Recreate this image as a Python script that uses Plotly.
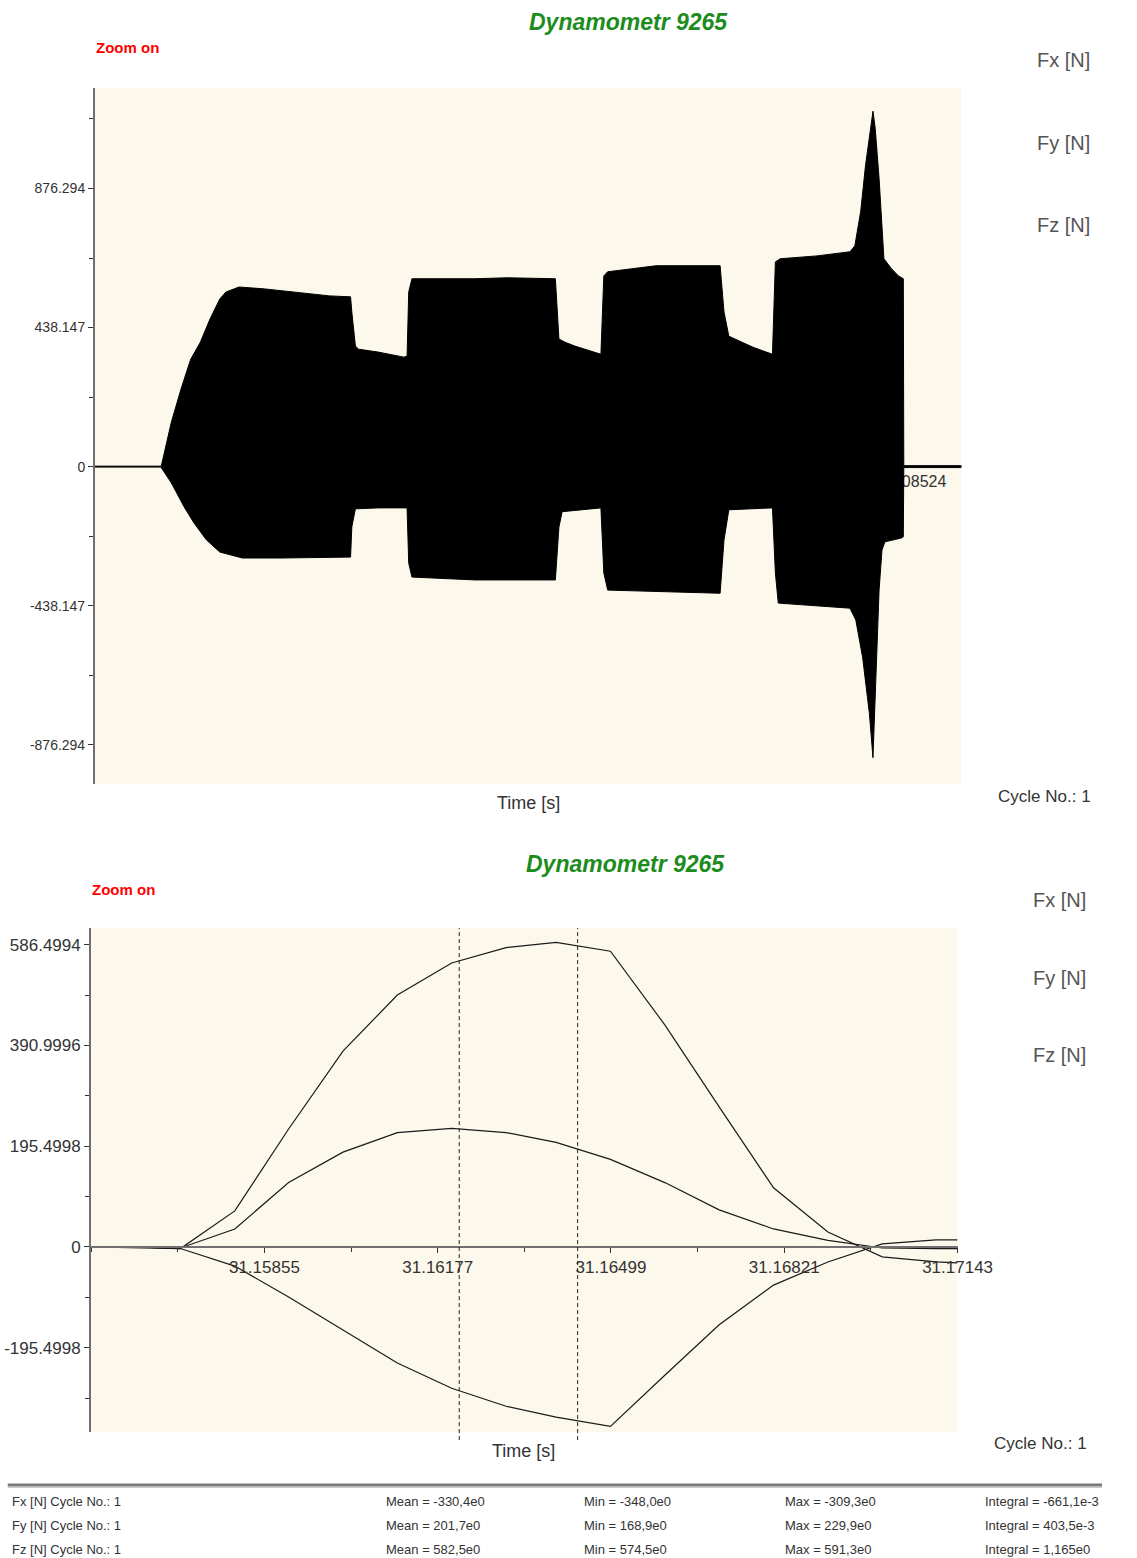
import plotly.graph_objects as go

W, H = 1137, 1558
FONT = "Liberation Sans, Arial, sans-serif"

# ---------------- overview record: envelope of the force signal ----------------
env_upper_t = [0.0, 2.585, 2.60, 2.992, 3.372, 3.752, 4.132, 4.512, 4.893, 5.132, 5.653,
               6.653, 7.934, 9.200, 10.025, 10.074, 10.215, 10.340, 11.101, 12.116, 12.241,
               12.306, 12.431, 13.636, 14.902, 16.157, 18.058, 18.198, 18.438, 18.818,
               19.844, 19.958, 20.110, 22.011, 24.520, 24.672, 24.862, 25.813, 26.573,
               26.687, 26.877, 28.322, 29.614, 29.805, 30.033, 30.223, 30.413, 30.515,
               30.603, 30.755, 30.945, 31.249, 31.515, 31.705, 31.724, 33.986]
env_upper_f = [1.5, 1.5, 1.5, 139, 244, 338, 392, 465, 528, 550, 566,
               560, 550, 538, 535, 487, 380, 370, 361, 345, 348,
               550, 592, 592, 592, 595, 592, 402, 392, 380,
               354, 601, 614, 633, 633, 487, 411, 376, 354,
               645, 655, 664, 677, 696, 804, 949, 1066, 1120,
               1066, 908, 655, 623, 601, 592, 3, 3]

env_lower_t = [0.0, 2.585, 2.60, 2.992, 3.497, 3.878, 4.372, 4.893, 5.778, 7.299, 10.025,
               10.074, 10.215, 11.101, 12.241, 12.306, 12.431, 14.902, 18.058, 18.198,
               18.324, 19.844, 19.958, 20.110, 24.520, 24.672, 24.862, 26.573, 26.687,
               26.801, 29.614, 29.843, 30.109, 30.375, 30.515, 30.603, 30.755, 30.869,
               30.983, 31.629, 31.705, 31.724, 33.986]
env_lower_f = [-1.5, -1.5, -1.5, -51, -127, -177, -231, -269, -288, -288, -285,
               -190, -133, -130, -130, -304, -348, -357, -357, -190,
               -142, -130, -335, -389, -399, -231, -136, -130, -335,
               -430, -446, -484, -601, -778, -917, -759, -389, -263,
               -237, -225, -221, -3, -3]

overview_t_range = [0.0, 33.986]
overview_f_range = [-1000, 1193]
overview_tick_t = [8.02131, 16.04262, 24.06393, 32.08524]
overview_tick_text = ["8.02131", "16.04262", "24.06393", "32.08524"]
overview_f_ticks = [-876.294, -438.147, 0, 438.147, 876.294]

# ---------------- zoomed window: single engagement ----------------
zoom_t = [31.15533, 31.15598, 31.15699, 31.15800, 31.15900, 31.16001, 31.16102,
          31.16203, 31.16304, 31.16397, 31.16498, 31.16599, 31.16700, 31.16801,
          31.16902, 31.17003, 31.17103, 31.17143]
fz = [0, 1, -3, 70, 229, 380, 489, 551, 581, 591, 574, 431, 272, 115, 29, -19, -29, -31]
fy = [0, 1, -2, 35, 125, 184, 222, 230, 222, 203, 170, 125, 72, 35, 13, -2, -3, -3]
fx = [0, -1, -3, -37, -97, -161, -225, -274, -309, -330, -348, -249, -151, -74, -29, 6, 14, 14]

zoom_t_range = [31.15533, 31.17143]
zoom_f_range = [-359, 619]
cursor_t = [31.16217, 31.16437]
zoom_t_ticks = [31.15855, 31.16177, 31.16499, 31.16821, 31.17143]
zoom_f_ticks = [-195.4998, 0, 195.4998, 390.9996, 586.4994]

# ---------------- statistics between the cursors ----------------
stat_channel = ["Fx [N] Cycle No.: 1", "Fy [N] Cycle No.: 1", "Fz [N] Cycle No.: 1"]
stat_mean = ["-330,4e0", "201,7e0", "582,5e0"]
stat_min = ["-348,0e0", "168,9e0", "574,5e0"]
stat_max = ["-309,3e0", "229,9e0", "591,3e0"]
stat_integral = ["-661,1e-3", "403,5e-3", "1,165e0"]

channels = ["Fx [N]", "Fy [N]", "Fz [N]"]

BG = "#FDF8EC"
AXIS_LINE = "#707070"
TEXT = "#333333"


def px_x(x):
    return x / W


def px_y(y):
    return 1 - y / H


# plot-area rectangles (pixels)
top_box = dict(x0=98, x1=992, y0=88, y1=784)
bot_box = dict(x0=94, x1=988, y0=928, y1=1432)

fig = go.Figure()

# tick labels of the overview time axis sit on the zero line, beneath the signal
label_offset = 16 * (overview_f_range[1] - overview_f_range[0]) / (top_box["y1"] - top_box["y0"])
fig.add_trace(go.Scatter(
    x=overview_tick_t, y=[-label_offset] * len(overview_tick_t),
    mode="text", text=overview_tick_text,
    textfont=dict(family=FONT, size=16, color=TEXT),
    cliponaxis=False, hoverinfo="skip", showlegend=False,
    xaxis="x", yaxis="y"))

# overview signal drawn as its filled envelope
fig.add_trace(go.Scatter(
    x=env_upper_t + env_lower_t[::-1],
    y=env_upper_f + env_lower_f[::-1],
    mode="lines", fill="toself", fillcolor="black",
    line=dict(color="black", width=1),
    hoverinfo="skip", showlegend=False,
    xaxis="x", yaxis="y"))

# zoomed force components
for name, vals in zip(channels, [fx, fy, fz]):
    fig.add_trace(go.Scatter(
        x=zoom_t, y=vals, mode="lines", name=name,
        line=dict(color="#1a1a1a", width=1.2),
        showlegend=False, xaxis="x2", yaxis="y2"))

# cursor lines
shapes = []
for t in cursor_t:
    shapes.append(dict(type="line", xref="x2", yref="y2 domain",
                       x0=t, x1=t, y0=-0.016, y1=1.0,
                       line=dict(color="#222222", width=1, dash="4px,3px")))

# separator above the statistics table
shapes.append(dict(type="line", xref="paper", yref="paper",
                   x0=px_x(8), x1=1.0, y0=px_y(1485), y1=px_y(1485),
                   line=dict(color="#7a7a7a", width=3)))
shapes.append(dict(type="line", xref="paper", yref="paper",
                   x0=px_x(8), x1=1.0, y0=px_y(1487.5), y1=px_y(1487.5),
                   line=dict(color="#c8c8c8", width=1)))

# position of the zoomed time axis on the zero force line
bot_dom = [px_y(bot_box["y1"]), px_y(bot_box["y0"])]
zero_frac = (0 - zoom_f_range[0]) / (zoom_f_range[1] - zoom_f_range[0])
zero_pos = bot_dom[0] + zero_frac * (bot_dom[1] - bot_dom[0])


def note(text, x, y, size, color=TEXT, xanchor="left", bold=False, italic=False):
    if italic:
        text = f"<i>{text}</i>"
    if bold:
        text = f"<b>{text}</b>"
    return dict(text=text, x=px_x(x), y=px_y(y), xref="paper", yref="paper",
                xanchor=xanchor, yanchor="middle", showarrow=False,
                font=dict(family=FONT, size=size, color=color))


GREEN = "#1c8c1c"
annotations = [
    note("Dynamometr 9265", 648, 22, 23, GREEN, "center", bold=True, italic=True),
    note("Zoom on", 97, 48, 15, "#ff0000", "left", bold=True),
    note("Time [s]", 545, 803, 18, TEXT, "center"),
    note("Cycle No.: 1", 1128, 796, 17, TEXT, "right"),
    note("Dynamometr 9265", 645, 864, 23, GREEN, "center", bold=True, italic=True),
    note("Zoom on", 93, 889, 15, "#ff0000", "left", bold=True),
    note("Time [s]", 540, 1451, 18, TEXT, "center"),
    note("Cycle No.: 1", 1124, 1443, 17, TEXT, "right"),
]
for name, y in zip(channels, [60, 143, 225]):
    annotations.append(note(name, 1127, y, 20, "#555555", "right"))
for name, y in zip(channels, [900, 978, 1055]):
    annotations.append(note(name, 1123, y, 20, "#555555", "right"))

for i, y in enumerate([1501, 1525, 1549]):
    annotations.append(note(stat_channel[i], 10, y, 13))
    annotations.append(note(f"Mean = {stat_mean[i]}", 396, y, 13))
    annotations.append(note(f"Min = {stat_min[i]}", 601, y, 13))
    annotations.append(note(f"Max = {stat_max[i]}", 808, y, 13))
    annotations.append(note(f"Integral = {stat_integral[i]}", 1014, y, 13))

yaxis_common = dict(
    showline=True, linecolor=AXIS_LINE, linewidth=2,
    ticks="outside", ticklen=5, tickwidth=1, tickcolor=TEXT,
    showgrid=False, zeroline=False, fixedrange=True,
)

fig.update_layout(
    width=W, height=H, autosize=False,
    margin=dict(l=0, r=0, t=0, b=0),
    paper_bgcolor="white", plot_bgcolor=BG,
    showlegend=False,
    font=dict(family=FONT, color=TEXT),
    xaxis=dict(domain=[px_x(top_box["x0"]), px_x(top_box["x1"])],
               range=overview_t_range, visible=False, fixedrange=True),
    yaxis=dict(domain=[px_y(top_box["y1"]), px_y(top_box["y0"])],
               range=overview_f_range, anchor="x",
               tickmode="array", tickvals=overview_f_ticks,
               ticktext=[str(v) for v in overview_f_ticks],
               tickfont=dict(family=FONT, size=14, color=TEXT),
               minor=dict(dtick=overview_f_ticks[-1] / 4, tick0=0, ticks="outside",
                          ticklen=4, tickcolor=TEXT),
               **yaxis_common),
    xaxis2=dict(domain=[px_x(bot_box["x0"]), px_x(bot_box["x1"])],
                range=zoom_t_range, anchor="free", position=zero_pos,
                showline=True, linecolor=AXIS_LINE, linewidth=2,
                ticks="outside", ticklen=5, tickwidth=1, tickcolor=TEXT,
                tickmode="array", tickvals=zoom_t_ticks,
                ticktext=[f"{v:.5f}" for v in zoom_t_ticks],
                tickfont=dict(family=FONT, size=17, color=TEXT),
                minor=dict(dtick=(zoom_t_ticks[1] - zoom_t_ticks[0]) / 2,
                           tick0=zoom_t_ticks[0], ticks="outside",
                           ticklen=4, tickcolor=TEXT),
                showgrid=False, zeroline=False, fixedrange=True),
    yaxis2=dict(domain=[px_y(bot_box["y1"]), px_y(bot_box["y0"])],
                range=zoom_f_range, anchor="x2",
                tickmode="array", tickvals=zoom_f_ticks,
                ticktext=[str(v) for v in zoom_f_ticks],
                tickfont=dict(family=FONT, size=17, color=TEXT),
                minor=dict(dtick=zoom_f_ticks[2] / 2, tick0=0, ticks="outside",
                           ticklen=4, tickcolor=TEXT),
                **yaxis_common),
    shapes=shapes,
    annotations=annotations,
)

fig.write_html("out.html")
